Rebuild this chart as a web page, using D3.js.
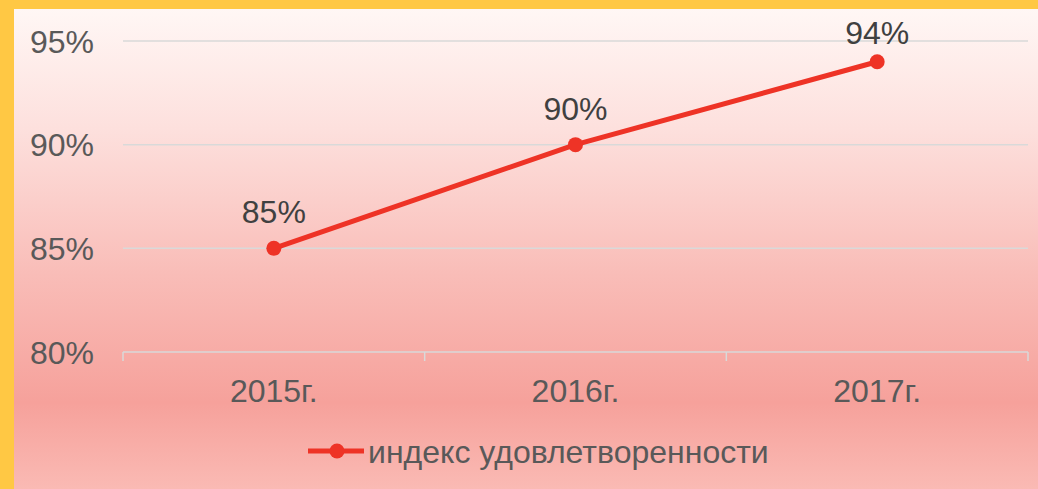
<!DOCTYPE html>
<html><head><meta charset="utf-8">
<script src="https://cdn.jsdelivr.net/npm/d3@7"></script>
<style>html,body{margin:0;padding:0;overflow:hidden;background:#ffc844}</style>
</head><body>
<svg id="c" width="1038" height="489"></svg>
<script>
const categories = ["2015г.", "2016г.", "2017г."];
const values = [85, 90, 94];
const yTicks = [80, 85, 90, 95];
const seriesName = "индекс удовлетворенности";

(function(){
const svg = d3.select("#c");
const W = 1038, H = 489;
const defs = svg.append("defs");
const grad = defs.append("linearGradient").attr("id","bg").attr("x1",0).attr("y1",0).attr("x2",0).attr("y2",1);
[[0,"#fff7f5"],[0.25,"#fde0dd"],[0.55,"#f9bdb8"],[0.82,"#f6a19b"],[1,"#fabab4"]].forEach(([o,c])=>grad.append("stop").attr("offset",o).attr("stop-color",c));
svg.append("rect").attr("x",0).attr("y",0).attr("width",W).attr("height",H).attr("fill","#ffc844");
svg.append("rect").attr("x",14).attr("y",9).attr("width",W-14).attr("height",H-9).attr("fill","url(#bg)");

const mLeft = 123, mRight = 1028, mTop = 41, mBottom = 352;
const x = d3.scaleBand().domain(categories).range([mLeft, mRight]);
const y = d3.scaleLinear().domain([80, 95]).range([mBottom, mTop]);
const font = "'Liberation Sans', Arial, sans-serif";
const fs = 32;

// gridlines
svg.append("g").selectAll("line").data(yTicks.filter(t=>t!==80)).join("line")
  .attr("x1",mLeft).attr("x2",mRight).attr("y1",d=>y(d)).attr("y2",d=>y(d))
  .attr("stroke","#d9d9d9").attr("stroke-width",1.5);

// y labels
svg.append("g").selectAll("text").data(yTicks).join("text")
  .attr("x",94).attr("y",d=>y(d)).attr("dy","0.36em").attr("text-anchor","end")
  .attr("font-family",font).attr("font-size",fs).attr("fill","#595959")
  .text(d=>d+"%");

// x axis
svg.append("line").attr("x1",mLeft).attr("x2",mRight).attr("y1",mBottom).attr("y2",mBottom)
  .attr("stroke","#d9d9d9").attr("stroke-width",1.5);
const tickXs = categories.map(c=>x(c)).concat([mRight]);
svg.append("g").selectAll("line").data(tickXs).join("line")
  .attr("x1",d=>d).attr("x2",d=>d).attr("y1",mBottom).attr("y2",mBottom+9)
  .attr("stroke","#d9d9d9").attr("stroke-width",1.5);
svg.append("g").selectAll("text").data(categories).join("text")
  .attr("x",d=>x(d)+x.bandwidth()/2).attr("y",402).attr("text-anchor","middle")
  .attr("font-family",font).attr("font-size",fs).attr("fill","#595959").text(d=>d);

// line
const pts = categories.map((c,i)=>({c, v:values[i]}));
const line = d3.line().x(d=>x(d.c)+x.bandwidth()/2).y(d=>y(d.v));
svg.append("path").datum(pts).attr("d",line).attr("fill","none")
  .attr("stroke","#ee3326").attr("stroke-width",5).attr("stroke-linejoin","round");
svg.append("g").selectAll("circle").data(pts).join("circle")
  .attr("cx",d=>x(d.c)+x.bandwidth()/2).attr("cy",d=>y(d.v)).attr("r",7.5).attr("fill","#ee3326");
svg.append("g").selectAll("text").data(pts).join("text")
  .attr("x",d=>x(d.c)+x.bandwidth()/2).attr("y",d=>Math.max(y(d.v)-25, 44)).attr("text-anchor","middle")
  .attr("font-family",font).attr("font-size",fs).attr("fill","#404040").text(d=>d.v+"%");

// legend
const lg = svg.append("g");
lg.append("line").attr("x1",308).attr("x2",364).attr("y1",451).attr("y2",451)
  .attr("stroke","#ee3326").attr("stroke-width",5);
lg.append("circle").attr("cx",337).attr("cy",451).attr("r",7.5).attr("fill","#ee3326");
lg.append("text").attr("x",368).attr("y",463).attr("font-family",font).attr("font-size",fs)
  .attr("fill","#595959").text(seriesName);
})();
</script>
</body></html>
